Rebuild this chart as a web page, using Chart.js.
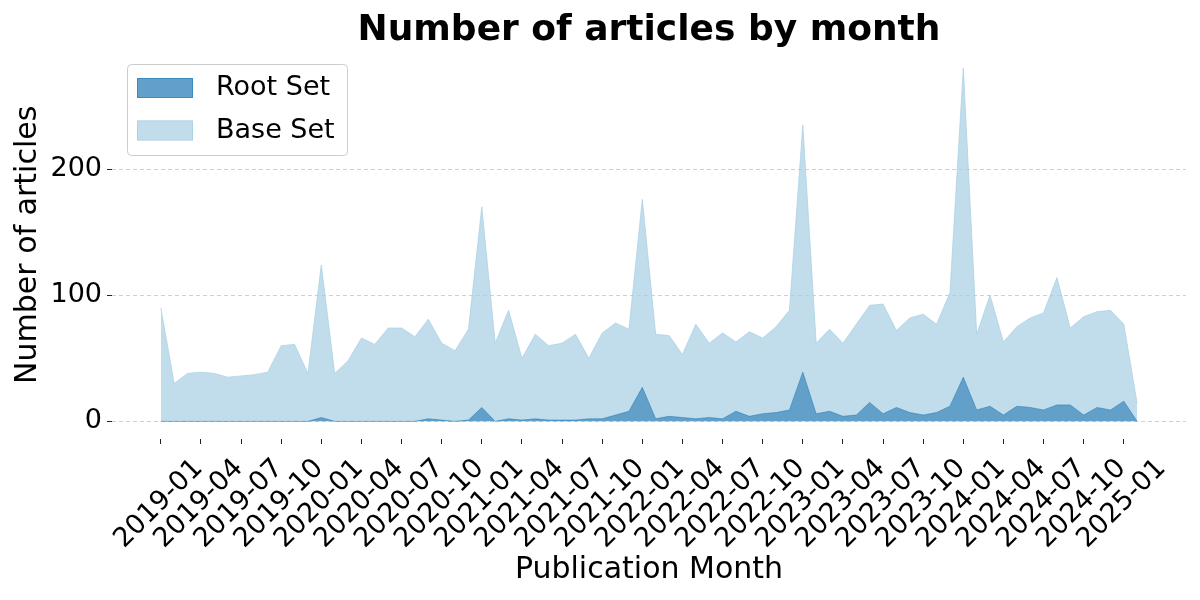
<!DOCTYPE html>
<html>
<head>
<meta charset="utf-8">
<script src="https://cdn.jsdelivr.net/npm/chart.js@4.4.1/dist/chart.umd.min.js"></script>
<style>
  html, body { margin: 0; padding: 0; background: #fff; }
  canvas { display: block; }
</style>
</head>
<body>
<canvas id="chart" width="1200" height="600"></canvas>
<script>
// months 2019-01 .. 2025-02
const months = []
for (let y = 2019; y <= 2025; y++) {
  for (let m = 1; m <= 12; m++) {
    if (y === 2025 && m > 2) break
    months.push(y + '-' + String(m).padStart(2, '0'))
  }
}

const rootSet = [
  0, 0, 0, 0, 0, 0, 0, 0, 0, 0, 0, 0,
  3, 0, 0, 0, 0, 0, 0, 0, 2, 1, 0, 1,
  11, 0, 2, 1, 2, 1, 1, 1, 2, 2, 5, 8,
  27, 2, 4, 3, 2, 3, 2, 8, 4, 6, 7, 9,
  39, 6, 8, 4, 5, 15, 6, 11, 7, 5, 7, 12,
  35, 9, 12, 5, 12, 11, 9, 13, 13, 5, 11, 9,
  16, 0
]
const baseSet = [
  90, 30, 38, 39, 38, 35, 36, 37, 39, 60, 61, 38,
  124, 38, 48, 66, 61, 74, 74, 67, 81, 62, 56, 73,
  170, 62, 88, 50, 69, 60, 62, 69, 50, 70, 78, 73,
  176, 69, 68, 53, 77, 62, 70, 63, 71, 66, 75, 88,
  235, 62, 73, 62, 77, 92, 93, 72, 82, 85, 77, 102,
  280, 69, 100, 63, 75, 82, 86, 114, 74, 83, 87, 88,
  77, 14
]
const yTicks = [0, 100, 200]
const xTickEvery = 3

const FONT = 'DejaVu Sans'
Chart.defaults.font.family = FONT
Chart.defaults.color = '#000'

const toPoints = arr => arr.map((v, i) => ({ x: i, y: v }))

// rotated month labels, centred on the tick like matplotlib does
const xLabelPlugin = {
  id: 'xLabels',
  afterDraw(chart) {
    const { ctx, scales: { x }, chartArea } = chart
    ctx.save()
    ctx.font = `27px "${FONT}"`
    ctx.fillStyle = '#000'
    ctx.textAlign = 'center'
    ctx.textBaseline = 'middle'
    x.ticks.forEach(t => {
      ctx.save()
      ctx.translate(x.getPixelForValue(t.value) - 2, chartArea.bottom + 65)
      ctx.rotate(-Math.PI / 4)
      ctx.fillText(months[t.value], 0, 0)
      ctx.restore()
    })
    ctx.restore()
  }
}

// legend box in the upper left of the plot
const legendPlugin = {
  id: 'boxLegend',
  afterDraw(chart) {
    const { ctx } = chart
    ctx.save()
    ctx.beginPath()
    ctx.roundRect(127.5, 64.5, 220, 91, 4)
    ctx.fillStyle = 'rgba(255,255,255,0.8)'
    ctx.fill()
    ctx.strokeStyle = '#cccccc'
    ctx.lineWidth = 1
    ctx.stroke()
    ctx.font = `27px "${FONT}"`
    ctx.textBaseline = 'middle'
    chart.data.datasets.forEach((ds, i) => {
      const cy = 88 + i * 42.5
      ctx.fillStyle = ds.backgroundColor
      ctx.fillRect(137, cy - 10, 56, 20)
      ctx.strokeStyle = ds.borderColor
      ctx.strokeRect(137.5, cy - 9.5, 55, 19)
      ctx.fillStyle = '#000'
      ctx.fillText(ds.label, 216, cy)
    })
    ctx.restore()
  }
}

const ctx = document.getElementById('chart').getContext('2d')
new Chart(ctx, {
  type: 'line',
  data: {
    datasets: [
      {
        label: 'Root Set',
        data: toPoints(rootSet),
        fill: 'origin',
        backgroundColor: 'rgba(31,120,180,0.7)',
        borderColor: 'rgba(31,120,180,0.55)',
        borderWidth: 1,
        pointRadius: 0,
        tension: 0
      },
      {
        label: 'Base Set',
        data: toPoints(baseSet),
        fill: '-1',
        backgroundColor: 'rgba(166,206,227,0.7)',
        borderColor: 'rgba(166,206,227,0.7)',
        borderWidth: 1,
        pointRadius: 0,
        tension: 0
      }
    ]
  },
  options: {
    responsive: false,
    animation: false,
    devicePixelRatio: 1,
    layout: { padding: { left: 0, right: 14, top: 0, bottom: 0 } },
    plugins: {
      legend: { display: false },
      tooltip: { enabled: false },
      title: {
        display: true,
        text: 'Number of articles by month',
        fullSize: false,
        color: '#000',
        font: { size: 36, weight: 'bold', lineHeight: 1.1 },
        padding: { top: 11, bottom: 0 }
      }
    },
    scales: {
      x: {
        type: 'linear',
        min: -3.65,
        max: 76.65,
        afterBuildTicks: s => {
          s.ticks = months.map((m, i) => i).filter(i => i % xTickEvery === 0).map(v => ({ value: v }))
        },
        afterFit: s => { s.height = 161 },
        ticks: { display: false },
        grid: { drawOnChartArea: false, drawTicks: true, tickLength: 5, tickColor: '#222', tickWidth: 1, tickBorderDash: [] },
        border: { display: false },
        title: { display: true, text: 'Publication Month', font: { size: 30 }, padding: { top: 0, bottom: 12 } }
      },
      y: {
        min: -14,
        max: 294,
        afterBuildTicks: s => { s.ticks = yTicks.map(v => ({ value: v })) },
        afterFit: s => { s.width = 112 },
        ticks: { font: { size: 27 }, padding: 5, color: '#000' },
        grid: { color: '#d0d0d0', lineWidth: 1, tickLength: 5, tickColor: '#222', tickWidth: 1, tickBorderDash: [] },
        border: { display: false, dash: [4, 3] },
        title: { display: true, text: 'Number of articles', font: { size: 30 }, padding: { top: 10, bottom: 0 } }
      }
    }
  },
  plugins: [xLabelPlugin, legendPlugin]
})
</script>
</body>
</html>
